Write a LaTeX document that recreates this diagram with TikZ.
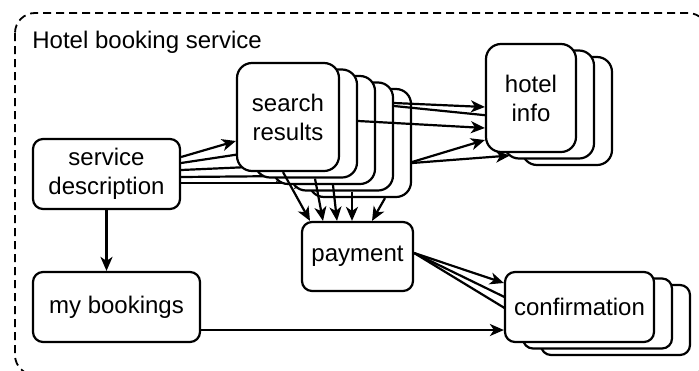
\documentclass[tikz,border=0pt]{standalone}
\usepackage{fontspec}
\setmainfont{Liberation Sans}
\usetikzlibrary{arrows.meta,calc}

\tikzset{
  box/.style={draw, line width=1.1pt, fill=white, rounded corners=5pt, align=center, inner sep=0pt},
  tallbox/.style={box, rounded corners=7.5pt, minimum width=51pt, minimum height=54pt},
  widebox/.style={box, minimum width=74.5pt, minimum height=35pt},
  link/.style={line width=1.1pt, -{Stealth[length=7pt,width=6pt,inset=2pt]}},
}

\begin{document}
\begin{tikzpicture}[x=0.5pt, y=-0.5pt, font=\fontsize{12}{14.5}\selectfont]
            \useasboundingbox (0,0) rectangle (699,370);
            \clip (0,0) rectangle (699,370);

            % Service frame
            \draw[line width=0.9pt, dash pattern=on 4pt off 2.5pt, rounded corners=10pt] (15,13) rectangle (708,375);
            \node[anchor=base west, inner sep=0pt] (title) at (32,48) {Hotel booking service};

            % Single states
            \node[box, minimum width=73.5pt, minimum height=35pt] (sd) at (106.5,174) {service\\description};
            \node[box, minimum width=83.5pt, minimum height=35pt] (mb) at (116.5,307) {my bookings};
            \node[box, minimum width=55.5pt, minimum height=34.5pt] (pay) at (357.5,256.5) {payment};
            \draw[link] (sd.south) -- (sd.south |- mb.north);

            % Search results, back to front
            \node[tallbox] (sr4) at (360,143) {};
            \draw[link] ($(sd.east)+(0,9)$) -- ($(sr4.west)+(0,40)$);
            \node[tallbox] (sr3) at (342,136.5) {};
            \draw[link] ($(sd.east)+(0,3)$) -- ($(sr3.west)+(0,39.5)$);
            \node[tallbox] (sr2) at (324,130) {};
            \draw[link] ($(sd.east)+(0,-4)$) -- ($(sr2.west)+(0,36)$);
            \node[tallbox] (sr1) at (306,123.5) {};
            \draw[link] ($(sd.east)+(0,-11)$) -- ($(sr1.west)+(0,28.5)$);
            \node[tallbox] (sr0) at (288,117) {search\\results};
            \draw[link] ($(sd.east)+(0,-17)$) -- ($(sr0.west)+(0,24)$);

            % Hotel info
            \node[tallbox, minimum width=45pt] (hi2) at (567,111) {};
            \node[tallbox, minimum width=45pt] (hi1) at (549,104.5) {};
            \draw[link] ($(sr3.east)+(0,-30.5)$) -- ($(hi1.west)+(0,12.5)$);
            \draw[link] ($(sr4.east)+(0,20)$) -- ($(hi1.west)+(7,51)$);
            \node[tallbox, minimum width=45pt] (hi0) at (531,98) {hotel\\info};
            \draw[link] ($(sr3.east)+(0,-33.5)$) -- ($(hi0.west)+(0,9)$);
            \draw[link] ($(sr1.east)+(0,-2.5)$) -- ($(hi0.west)+(0,30)$);
            \draw[link] ($(sr4.east)+(0,19)$) -- ($(hi0.west)+(0,42)$);

            % Search results to payment
            \draw[link] ($(sr0.south)+(-5,0)$) -- ($(pay.north)+(-47.5,0)$);
            \draw[link] ($(sr1.south)+(9,0)$) -- ($(pay.north)+(-34.5,0)$);
            \draw[link] ($(sr2.south)+(9,0)$) -- ($(pay.north)+(-20.5,0)$);
            \draw[link] ($(sr3.south)+(10,0)$) -- ($(pay.north)+(-5.5,0)$);
            \draw[link] ($(sr4.south)+(25,0)$) -- ($(pay.north)+(14.5,0)$);

            % Confirmation
            \node[widebox] (cf2) at (615.5,320) {};
            \draw[link] ($(pay.east)+(0,-3.5)$) -- ($(cf2.west)+(0,9.5)$);
            \node[widebox] (cf1) at (597.5,313.5) {};
            \draw[link] ($(pay.east)+(0,-3.5)$) -- ($(cf1.west)+(0,-8)$);
            \node[widebox] (cf0) at (579.5,307) {confirmation};
            \draw[link] ($(pay.east)+(0,-3.5)$) -- ($(cf0.west)+(0,-24)$);
            \draw[link] ($(mb.east)+(0,23)$) -- ($(cf0.west)+(0,23)$);
        \end{tikzpicture}
\end{document}
